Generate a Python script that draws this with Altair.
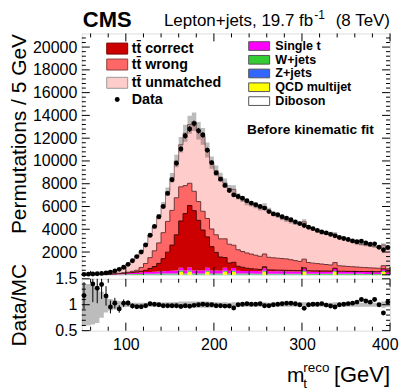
import altair as alt
import pandas as pd

# ---------------- data (5 GeV bins from 50 to 400 GeV) ----------------
x_start = 50
bin_w = 5

data_counts = [40, 55, 70, 95, 125, 165, 240, 340, 480, 660,
               920, 1230, 1600, 2000, 2620, 3480, 4250, 5100, 6000, 7150,
               8350, 9800, 11050, 12200, 12800, 13280, 12650, 12280, 10950, 9850,
               8950, 8400, 7850, 7400, 7020, 6880, 6720, 6500, 6300, 6150,
               6000, 5860, 5550, 5350, 5270, 5100, 4980, 4840, 4650, 4500,
               4330, 4180, 4060, 3900, 3770, 3680, 3550, 3420, 3280, 3190,
               3100, 2980, 2900, 2950, 2800, 2680, 2720, 2420, 2200, 2400]

tt_correct = [1, 1, 2, 2, 3, 4, 6, 9, 13, 20,
              40, 55, 75, 100, 160, 300, 450, 700, 1100, 1650,
              2250, 3150, 4100, 5000, 5450, 5250, 4400, 3550, 2700, 2100,
              1600, 1200, 900, 680, 500, 400, 320, 240, 200, 170,
              150, 135, 120, 110, 100, 95, 90, 85, 80, 78,
              75, 72, 70, 67, 65, 62, 60, 58, 55, 53,
              50, 48, 46, 44, 42, 40, 38, 37, 36, 35]

tt_wrong = [2, 2, 3, 5, 7, 10, 15, 22, 32, 45,
            50, 90, 140, 330, 600, 950, 1380, 1800, 2280, 2700,
            3050, 3250, 3000, 2450, 1950, 1700, 1650, 1650, 1620, 1550,
            1550, 1600, 1650, 1650, 1500, 1455, 1387, 1343, 1284, 1220,
            1156, 1122, 1103, 1074, 1050, 1026, 1007, 943, 874, 807,
            766, 719, 677, 640, 608, 571, 539, 501, 480, 452,
            431, 408, 391, 363, 351, 333, 321, 302, 289, 270]

tt_unmatched = [21, 19, 27, 41, 48, 84, 176, 229, 386, 463,
                663, 954, 1267, 1446, 1678, 1906, 2101, 2302, 2425, 2610,
                2865, 3235, 3700, 4600, 5150, 6100, 6217, 6580, 6004, 5829,
                5618, 5412, 4900, 4900, 4900, 4680, 4607, 4457, 4422, 4373,
                4256, 4154, 4127, 3854, 3762, 3574, 3439, 3373, 3313, 3324,
                3280, 3104, 2994, 2875, 2750, 2800, 2775, 2500, 2484, 2392,
                2303, 2182, 2076, 2026, 1981, 1940, 1877, 1844, 1813, 1750]

single_t = [5, 8, 10, 14, 18, 25, 32, 42, 55, 70,
            85, 100, 115, 130, 150, 165, 180, 195, 210, 225,
            240, 250, 260, 265, 270, 270, 270, 265, 265, 260,
            255, 250, 250, 245, 240, 240, 235, 230, 230, 225,
            220, 220, 215, 215, 210, 210, 205, 205, 200, 200,
            195, 195, 190, 190, 185, 185, 180, 180, 175, 175,
            170, 170, 165, 165, 160, 160, 155, 155, 150, 150]

w_jets = [3, 4, 5, 7, 9, 12, 15, 20, 26, 32,
          40, 48, 55, 62, 70, 76, 82, 88, 92, 96,
          100, 100, 100, 100, 100, 100, 98, 98, 96, 96,
          95, 94, 93, 92, 91, 90, 89, 88, 87, 86,
          85, 84, 83, 82, 81, 80, 79, 78, 77, 76,
          75, 75, 74, 74, 73, 73, 72, 72, 71, 71,
          70, 70, 69, 69, 68, 68, 67, 67, 66, 66]

z_jets = [1, 1, 2, 2, 3, 4, 5, 6, 7, 8,
          10, 11, 12, 12, 13, 13, 13, 14, 14, 14,
          14, 14, 14, 14, 14, 14, 14, 14, 14, 14,
          14, 13, 13, 13, 13, 13, 13, 13, 13, 13,
          12, 12, 12, 12, 12, 12, 12, 12, 12, 12,
          12, 12, 11, 11, 11, 11, 11, 11, 11, 11,
          11, 11, 10, 10, 10, 10, 10, 10, 10, 10]

qcd = [0, 0, 0, 0, 0, 0, 0, 0, 0, 0,
       0, 0, 0, 0, 0, 0, 0, 0, 0, 0,
       0, 0, 250, 0, 250, 0, 0, 0, 250, 0,
       0, 0, 250, 0, 250, 0, 0, 0, 0, 0,
       0, 250, 0, 0, 0, 0, 0, 0, 0, 0,
       250, 0, 0, 0, 0, 0, 0, 250, 0, 0,
       0, 0, 0, 0, 0, 0, 0, 0, 250, 0]

diboson = [1, 1, 1, 1, 2, 2, 2, 2, 3, 3,
           3, 3, 3, 3, 3, 3, 3, 3, 4, 4,
           4, 4, 4, 4, 4, 4, 4, 4, 4, 4,
           4, 4, 4, 4, 4, 4, 4, 4, 4, 4,
           4, 4, 4, 4, 4, 4, 4, 4, 4, 4,
           3, 3, 3, 3, 3, 3, 3, 3, 3, 3,
           3, 3, 3, 3, 3, 3, 3, 3, 3, 3]

mc_rel_unc = [0.40, 0.40, 0.38, 0.35, 0.25, 0.15, 0.11, 0.09, 0.07, 0.05,
              0.045, 0.04, 0.04, 0.04, 0.04, 0.04, 0.04, 0.045, 0.045, 0.05,
              0.05, 0.055, 0.06, 0.06, 0.06, 0.06, 0.06, 0.06, 0.06, 0.055,
              0.05, 0.045, 0.05, 0.04, 0.05, 0.04, 0.04, 0.04, 0.04, 0.04,
              0.04, 0.05, 0.04, 0.04, 0.04, 0.04, 0.04, 0.04, 0.04, 0.04,
              0.05, 0.04, 0.04, 0.04, 0.04, 0.04, 0.04, 0.05, 0.04, 0.04,
              0.04, 0.04, 0.04, 0.04, 0.04, 0.04, 0.04, 0.04, 0.06, 0.04]

data_rel_err = [0.22, 0.25, 0.25, 0.22, 0.20, 0.16, 0.13, 0.10, 0.08, 0.07,
                0.05, 0.045, 0.04, 0.035, 0.03, 0.03, 0.025, 0.025, 0.02, 0.02,
                0.02, 0.02, 0.02, 0.02, 0.02, 0.02, 0.02, 0.02, 0.02, 0.02,
                0.02, 0.02, 0.02, 0.02, 0.02, 0.02, 0.02, 0.02, 0.02, 0.02,
                0.02, 0.02, 0.02, 0.02, 0.02, 0.02, 0.02, 0.02, 0.02, 0.02,
                0.02, 0.02, 0.02, 0.02, 0.02, 0.02, 0.02, 0.02, 0.02, 0.02,
                0.02, 0.02, 0.02, 0.02, 0.02, 0.02, 0.02, 0.02, 0.02, 0.02]

comp_names = ["Diboson", "QCD multijet", "Z+jets", "W+jets", "Single t",
              "tt̄ correct", "tt̄ wrong", "tt̄ unmatched"]
comp_values = [diboson, qcd, z_jets, w_jets, single_t, tt_correct, tt_wrong, tt_unmatched]
comp_colors = ["#ffffff", "#ffff00", "#3366ff", "#33cc33", "#ff00ff",
               "#cc0000", "#ff6666", "#ffcccc"]
tt_names = ["tt̄ correct", "tt̄ wrong", "tt̄ unmatched"]
tt_line_colors = ["#4a0000", "#6e3030", "#9a7070"]

y_axis_values = [2000, 4000, 6000, 8000, 10000, 12000, 14000, 16000, 18000, 20000]
ratio_axis_values = [0.5, 1, 1.5]
x_axis_values = [100, 200, 300, 400]

# ---------------- derived tables ----------------
nb = len(data_counts)
edges = [x_start + bin_w * i for i in range(nb + 1)]
centers = [x_start + bin_w * (i + 0.5) for i in range(nb)]

rows = []
cum = [0.0] * nb
for name, vals in zip(comp_names, comp_values):
    for i in range(nb + 1):
        j = min(i, nb - 1)
        rows.append({"comp": name, "x": edges[i], "lo": cum[j], "hi": cum[j] + vals[j]})
    cum = [c + v for c, v in zip(cum, vals)]
stack_df = pd.DataFrame(rows)
total = cum

band_rows = []
for i in range(nb + 1):
    j = min(i, nb - 1)
    band_rows.append({"x": edges[i],
                      "lo": total[j] * (1 - mc_rel_unc[j]), "hi": total[j] * (1 + mc_rel_unc[j]),
                      "rlo": 1 - mc_rel_unc[j], "rhi": 1 + mc_rel_unc[j]})
band_df = pd.DataFrame(band_rows)

pts = []
for i in range(nb):
    r = data_counts[i] / total[i]
    pts.append({"x": centers[i], "y": data_counts[i],
                "ylo": data_counts[i] * (1 - data_rel_err[i]),
                "yhi": data_counts[i] * (1 + data_rel_err[i]),
                "r": r, "rlo": r * (1 - data_rel_err[i]), "rhi": r * (1 + data_rel_err[i])})
pts_df = pd.DataFrame(pts)
ratio_pts = pts_df[(pts_df["r"] >= 0.5) & (pts_df["r"] <= 1.5)]

# ---------------- geometry / style ----------------
W = 309
H1 = 242
H2 = 52
FONT = "Liberation Sans"

xs = alt.Scale(domain=[50, 400], nice=False, zero=False)
ys = alt.Scale(domain=[0, 21200], nice=False, zero=False)
rs = alt.Scale(domain=[0.5, 1.5], nice=False, zero=False)

one = pd.DataFrame({"a": [0]})

y_axis = alt.Axis(values=y_axis_values, ticks=False, domain=False, grid=False,
                  labelFontSize=16, labelPadding=5, format="d", labelColor="black",
                  labelOverlap=False, labelFont=FONT,
                  title="Permutations / 5 GeV", titleFontSize=21,
                  titleFontWeight="normal", titleColor="black", titleFont=FONT,
                  titleAnchor="end", titleX=-56, titleBaseline="alphabetic")
r_axis = alt.Axis(values=ratio_axis_values, ticks=False, domain=False, grid=False,
                  labelFontSize=16, labelPadding=5, format="~g", labelColor="black",
                  labelOverlap=False, labelFont=FONT,
                  title="Data/MC", titleFontSize=21,
                  titleFontWeight="normal", titleColor="black", titleFont=FONT,
                  titleX=-56, titleBaseline="alphabetic")
x_axis = alt.Axis(values=x_axis_values, ticks=False, domain=False, grid=False,
                  labelFontSize=16, labelPadding=6, labelColor="black", labelFont=FONT,
                  labelOverlap=False, labelFlushOffset=8, title=None, format="d")


def txt(s, x, y, size, weight="normal", align="left", baseline="alphabetic"):
    return alt.Chart(pd.DataFrame({"t": [s]})).mark_text(
        align=align, baseline=baseline, fontSize=size, fontWeight=weight,
        color="black", font=FONT).encode(text="t:N", x=alt.value(x), y=alt.value(y))


def box(x0, x1, y0, y1, fill, stroke):
    return alt.Chart(one).mark_rect(fill=fill, stroke=stroke, strokeWidth=1).encode(
        x=alt.value(x0), x2=alt.value(x1), y=alt.value(y0), y2=alt.value(y1))


def ticks(xmaj, xmin, ymaj, ymin, yscale, yaxis, xaxis, h):
    layers = []
    for vals, ln in ((xmaj, 8), (xmin, 4)):
        d = pd.DataFrame({"v": vals})
        layers.append(alt.Chart(d).mark_rule(color="black", strokeWidth=1).encode(
            x=alt.X("v:Q", scale=xs, axis=xaxis), y=alt.value(h), y2=alt.value(h - ln)))
        layers.append(alt.Chart(d).mark_rule(color="black", strokeWidth=1).encode(
            x=alt.X("v:Q", scale=xs, axis=xaxis), y=alt.value(0), y2=alt.value(ln)))
    for vals, ln in ((ymaj, 8), (ymin, 4)):
        d = pd.DataFrame({"v": vals})
        layers.append(alt.Chart(d).mark_rule(color="black", strokeWidth=1).encode(
            y=alt.Y("v:Q", scale=yscale, axis=yaxis), x=alt.value(0), x2=alt.value(ln)))
        layers.append(alt.Chart(d).mark_rule(color="black", strokeWidth=1).encode(
            y=alt.Y("v:Q", scale=yscale, axis=yaxis), x=alt.value(W), x2=alt.value(W - ln)))
    return layers


x_major = [100, 200, 300, 400]
x_minor = [v for v in range(60, 400, 20) if v % 100 != 0]
y_major = list(range(0, 21001, 2000))
y_minor = [v for v in range(400, 21200, 400) if v % 2000 != 0]
r_major = [0.5, 1.0, 1.5]
r_minor = [0.6, 0.7, 0.8, 0.9, 1.1, 1.2, 1.3, 1.4]

# ---------------- upper panel ----------------
stack_area = alt.Chart(stack_df).mark_area(interpolate="step-after").encode(
    x=alt.X("x:Q", scale=xs, axis=None),
    y=alt.Y("hi:Q", scale=ys, stack=None, axis=y_axis),
    y2="lo:Q",
    color=alt.Color("comp:N", scale=alt.Scale(domain=comp_names, range=comp_colors), legend=None),
)

outlines = alt.Chart(stack_df[stack_df["comp"].isin(tt_names)]).mark_line(
    interpolate="step-after", strokeWidth=1).encode(
    x=alt.X("x:Q", scale=xs, axis=None),
    y=alt.Y("hi:Q", scale=ys, axis=y_axis),
    stroke=alt.Stroke("comp:N", scale=alt.Scale(domain=tt_names, range=tt_line_colors), legend=None),
)

band = alt.Chart(band_df).mark_area(interpolate="step-after", color="#222222", opacity=0.3).encode(
    x=alt.X("x:Q", scale=xs, axis=None), y=alt.Y("lo:Q", scale=ys, axis=y_axis), y2="hi:Q")

err = alt.Chart(pts_df).mark_rule(color="black", strokeWidth=1).encode(
    x=alt.X("x:Q", scale=xs, axis=None), y=alt.Y("ylo:Q", scale=ys, axis=y_axis), y2="yhi:Q")
dots = alt.Chart(pts_df).mark_circle(color="black", opacity=1, size=24).encode(
    x=alt.X("x:Q", scale=xs, axis=None), y=alt.Y("y:Q", scale=ys, axis=y_axis))

LF = 12.6
legend_layers = [
    box(25, 46, 9.7, 20.7, "#cc0000", "#7a0000"), txt("tt̄ correct", 50, 15.2, 14.3, "bold", baseline="middle"),
    box(25, 46, 25.7, 36.7, "#ff6666", "#8a4040"), txt("tt̄ wrong", 50, 31.2, 14.3, "bold", baseline="middle"),
    box(25, 46, 44, 55, "#ffcccc", "#999999"), txt("tt̄ unmatched", 50, 49.5, 14.3, "bold", baseline="middle"),
    alt.Chart(one).mark_circle(color="black", opacity=1, size=24).encode(x=alt.value(35.5), y=alt.value(66.3)),
    txt("Data", 50, 66.3, 14.3, "bold", baseline="middle"),
    box(167.3, 188.3, 8.3, 17, "#ff00ff", "#555555"), txt("Single t", 194, 12.6, LF, "bold", baseline="middle"),
    box(167.3, 188.3, 22.1, 30.8, "#33cc33", "#555555"), txt("W+jets", 194, 26.4, LF, "bold", baseline="middle"),
    box(167.3, 188.3, 35.8, 44.5, "#3366ff", "#555555"), txt("Z+jets", 194, 40.1, LF, "bold", baseline="middle"),
    box(167.3, 188.3, 49.6, 58.3, "#ffff00", "#555555"), txt("QCD multijet", 194, 53.9, LF, "bold", baseline="middle"),
    box(167.3, 188.3, 63.5, 72.2, "#ffffff", "#555555"), txt("Diboson", 194, 67.8, LF, "bold", baseline="middle"),
    txt("Before kinematic fit", 165.7, 96.7, 13.7, "bold", baseline="middle"),
]

header_layers = [
    txt("CMS", 1, -6.5, 22, "bold"),
    txt("Lepton+jets, 19.7 fb", 232, -7.5, 17, align="right"),
    txt("-1", 233, -14, 12),
    txt("(8 TeV)", 309, -7.5, 17, align="right"),
]

upper = alt.layer(
    stack_area, outlines, band, err, dots,
    *ticks(x_major, x_minor, y_major, y_minor, ys, y_axis, None, H1),
    *legend_layers, *header_layers,
).properties(width=W, height=H1)

# ---------------- lower (ratio) panel ----------------
rband = alt.Chart(band_df).mark_area(interpolate="step-after", color="#222222", opacity=0.3,
                                     clip=True).encode(
    x=alt.X("x:Q", scale=xs, axis=x_axis),
    y=alt.Y("rlo:Q", scale=rs, axis=r_axis), y2="rhi:Q")
rerr = alt.Chart(ratio_pts).mark_rule(color="black", strokeWidth=1, clip=True).encode(
    x=alt.X("x:Q", scale=xs, axis=x_axis), y=alt.Y("rlo:Q", scale=rs, axis=r_axis), y2="rhi:Q")
rdots = alt.Chart(ratio_pts).mark_circle(color="black", opacity=1, size=24).encode(
    x=alt.X("x:Q", scale=xs, axis=x_axis), y=alt.Y("r:Q", scale=rs, axis=r_axis))

xtitle_layers = [
    txt("m", 205.7, 103, 21),
    txt("reco", 222, 93, 13.5),
    txt("t", 222, 109, 13.5),
    txt("[GeV]", 309, 103, 22, align="right"),
]

lower = alt.layer(
    rband, rerr, rdots,
    *ticks(x_major, x_minor, r_major, r_minor, rs, r_axis, x_axis, H2),
    *xtitle_layers,
).properties(width=W, height=H2)

chart = alt.vconcat(upper, lower, spacing=4, bounds="flush").properties(
    padding={"left": 0, "top": 0, "right": 0, "bottom": 0}
).configure_view(stroke="black", strokeWidth=1.5).configure(font=FONT).configure_axis(
    labelOverlap=False)

chart.save("out.html", embed_options={"renderer": "svg", "actions": False})
